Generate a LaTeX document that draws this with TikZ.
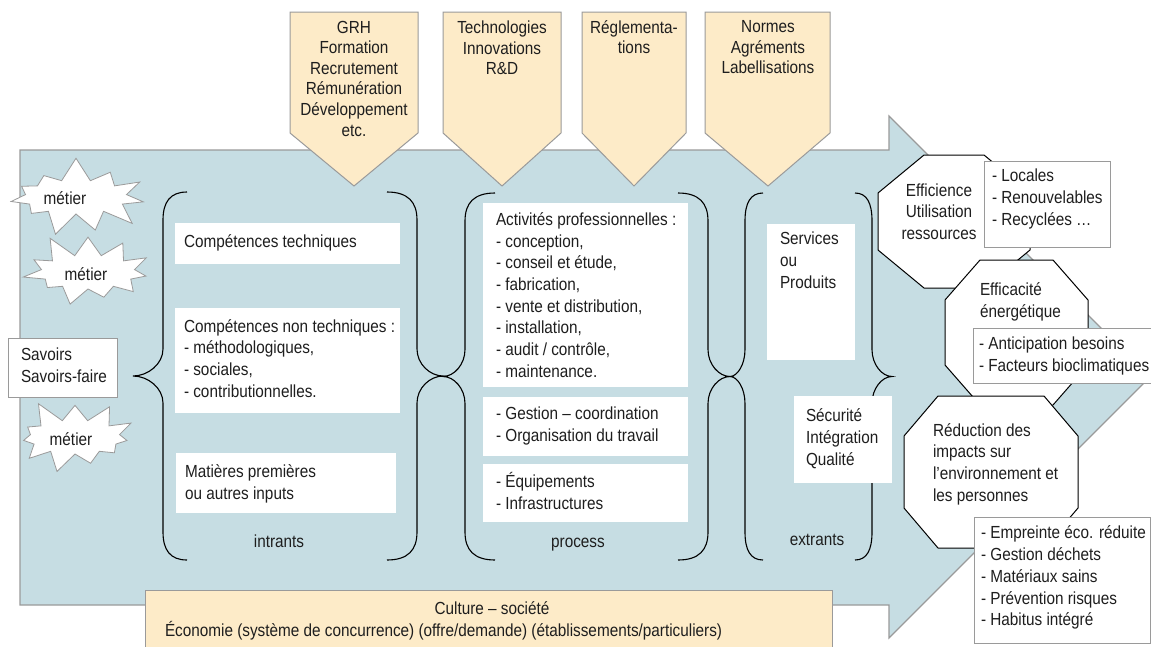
\documentclass[tikz,border=0pt]{standalone}
\usepackage{fontspec}
\setmainfont{Liberation Sans}[FakeStretch=0.875]
\usetikzlibrary{shapes.symbols}
\definecolor{bodyblue}{HTML}{C6DDE3}
\definecolor{beige}{HTML}{FDEBC8}
\definecolor{edgegray}{HTML}{9A9A9A}
\definecolor{inkc}{HTML}{1E1E1E}
\newcommand{\SL}{\strut}
\newcommand{\Brace}[5]{%
  \draw[brace] (#1,#4) .. controls ({#2+0.3*(#1-#2)},#4) and (#2,{#4+10}) .. (#2,{#4+28})
    -- (#2,{(#4+#5)/2-27}) .. controls (#2,{(#4+#5)/2-12}) and ({(#2+#3)/2},{(#4+#5)/2}) .. (#3,{(#4+#5)/2})
    .. controls ({(#2+#3)/2},{(#4+#5)/2}) and (#2,{(#4+#5)/2+12}) .. (#2,{(#4+#5)/2+27})
    -- (#2,{#5-28}) .. controls (#2,{#5-10}) and ({#2+0.3*(#1-#2)},#5) .. (#1,#5);}
\newcommand{\Octa}[6]{%
  \filldraw[octo] ({#1+#5},#2) -- ({#3-#5},#2) -- (#3,{#2+#6}) -- (#3,{#4-#6})
    -- ({#3-#5},#4) -- ({#1+#5},#4) -- (#1,{#4-#6}) -- (#1,{#2+#6}) -- cycle;}
\newcommand{\TopArrow}[3]{%
  \filldraw[toparrow] (#1,12) -- (#2,12) -- (#2,133) -- (#3,186) -- (#1,133) -- cycle;}
\begin{document}
\begin{tikzpicture}[x=1pt,y=-1pt,
  every node/.style={inner sep=0pt, outer sep=0pt, text=inkc},
  txt/.style={font=\fontsize{17.5}{21.7}\selectfont, align=left, anchor=west},
  ctxt/.style={font=\fontsize{17.5}{21.7}\selectfont, align=center},
  toptxt/.style={font=\fontsize{17.5}{20.6}\selectfont, align=center},
  wbox/.style={fill=white, draw=none, anchor=north west},
  gbox/.style={fill=white, draw=edgegray, line width=1pt, anchor=north west},
  brace/.style={draw=black, line width=1.1pt},
  octo/.style={fill=white, draw=black, line width=1pt},
  toparrow/.style={fill=beige, draw=edgegray, line width=1pt},
  star/.style={starburst, starburst points=11, starburst point height=24pt,
    draw=edgegray, fill=white, line width=0.8pt, minimum width=150pt, minimum height=82pt},
  startxt/.style={font=\fontsize{17.5}{21.7}\selectfont},
]
\useasboundingbox (0,0) rectangle (1151,646);

% big arrow
\filldraw[fill=bodyblue, draw=edgegray, line width=1.2pt]
  (20,150) -- (889,150) -- (889,116) -- (1150,377) -- (889,638) -- (889,605) -- (20,605) -- cycle;

% top arrows
\TopArrow{290}{418}{354}
\TopArrow{443}{561}{502}
\TopArrow{582}{686}{634}
\TopArrow{705}{830}{768}
\node[toptxt] (grh) at (354,80.5) {\SL GRH\\\SL Formation\\\SL Recrutement\\\SL Rémunération\\\SL Développement\\\SL etc.};
\node[toptxt] (tech) at (502,50) {\SL Technologies\\\SL Innovations\\\SL R\&D};
\node[toptxt] (regl) at (634,39.5) {\SL Réglementa-\\\SL tions};
\node[toptxt] (norm) at (768,49) {\SL Normes\\\SL Agréments\\\SL Labellisations};

% culture box
\node[fill=beige, draw=edgegray, line width=1pt, anchor=north west, minimum width=687pt, minimum height=66pt] (cult) at (145,590) {};
\node[ctxt] (culttxt) at (492,610) {\SL Culture – société};
\node[txt] (eco) at (165,632) {\SL Économie (système de concurrence) (offre/demande) (établissements/particuliers)};

% starbursts
\node[star, random starburst=7] (m1) at (76,197) {};
\node[star, random starburst=11, minimum width=142pt] (m2) at (88,272) {};
\node[star, random starburst=5, minimum width=138pt] (m3) at (75,437) {};
\node[startxt] (m1t) at (65,198) {métier};
\node[startxt] (m2t) at (86,274) {métier};
\node[startxt] (m3t) at (71,439) {métier};

% savoirs
\node[gbox, minimum width=109pt, minimum height=59pt] (sav) at (8,338) {};
\node[txt] (savtxt) at (21,367.5) {\SL Savoirs\\\SL Savoirs-faire};

% braces
\Brace{187}{163}{133}{192}{560}
\Brace{387}{417}{443}{192}{560}
\Brace{495}{465}{443}{193}{560}
\Brace{678}{708}{730}{193}{560}
\Brace{763}{745}{730}{193}{560}
\Brace{855}{872}{892}{193}{560}

% intrants boxes
\node[wbox, minimum width=225pt, minimum height=41pt] (b1) at (175,223) {};
\node[wbox, minimum width=225pt, minimum height=105pt] (b2) at (175,308) {};
\node[wbox, minimum width=220pt, minimum height=60pt] (b3) at (176,453) {};
\node[txt] (b1t) at (184,243.5) {\SL Compétences techniques};
\node[txt] (b2t) at (184,360.5) {\SL Compétences non techniques :\\\SL - méthodologiques,\\\SL - sociales,\\\SL - contributionnelles.};
\node[txt] (b3t) at (185,484) {\SL Matières premières\\\SL ou autres inputs};
\node[ctxt] (intr) at (279,543) {\SL intrants};

% process boxes
\node[wbox, minimum width=205pt, minimum height=184pt] (p1) at (483,203) {};
\node[wbox, minimum width=205pt, minimum height=59pt] (p2) at (483,397) {};
\node[wbox, minimum width=205pt, minimum height=58pt] (p3) at (483,464) {};
\node[txt] (p1t) at (496,297) {\SL Activités professionnelles :\\\SL - conception,\\\SL - conseil et étude,\\\SL - fabrication,\\\SL - vente et distribution,\\\SL - installation,\\\SL - audit / contrôle,\\\SL - maintenance.};
\node[txt] (p2t) at (496,426.5) {\SL - Gestion – coordination\\\SL - Organisation du travail};
\node[txt] (p3t) at (496,494) {\SL - Équipements\\\SL - Infrastructures};
\node[ctxt] (proc) at (578,543) {\SL process};

% extrants boxes
\node[wbox, minimum width=88pt, minimum height=136pt] (e1) at (767,224) {};
\node[wbox, minimum width=98pt, minimum height=87pt] (e2) at (794,396) {};
\node[txt] (e1t) at (780,262) {\SL Services\\\SL ou\\\SL Produits};
\node[txt] (e2t) at (806,439) {\SL Sécurité\\\SL Intégration\\\SL Qualité};
\node[ctxt] (extr) at (817,541) {\SL extrants};

% octagons
\Octa{878}{155}{1030}{288}{46}{38}
\node[ctxt] (o1t) at (939,213.5) {\SL Efficience\\\SL Utilisation\\\SL ressources};
\node[gbox, minimum width=126pt, minimum height=86pt] (loc) at (984,161) {};
\node[txt] (loct) at (992,199) {\SL - Locales\\\SL - Renouvelables\\\SL - Recyclées …};

\Octa{945}{260}{1088}{405}{35}{40}
\node[txt] (o2t) at (980,302.5) {\SL Efficacité\\\SL énergétique};
\node[gbox, minimum width=190pt, minimum height=55pt] (ant) at (973,328) {};
\node[txt] (antt) at (979,356) {\SL - Anticipation besoins\\\SL - Facteurs bioclimatiques};

\Octa{904}{396}{1078}{548}{34}{40}
\node[txt] (o3t) at (933,464.5) {\SL Réduction des\\\SL impacts sur\\\SL l’environnement et\\\SL les personnes};
\node[gbox, minimum width=176pt, minimum height=126pt] (emp) at (974,517) {};
\node[txt] (empt) at (981,578) {\SL - Empreinte éco. réduite\\\SL - Gestion déchets\\\SL - Matériaux sains\\\SL - Prévention risques\\\SL - Habitus intégré};
\end{tikzpicture}
\end{document}
